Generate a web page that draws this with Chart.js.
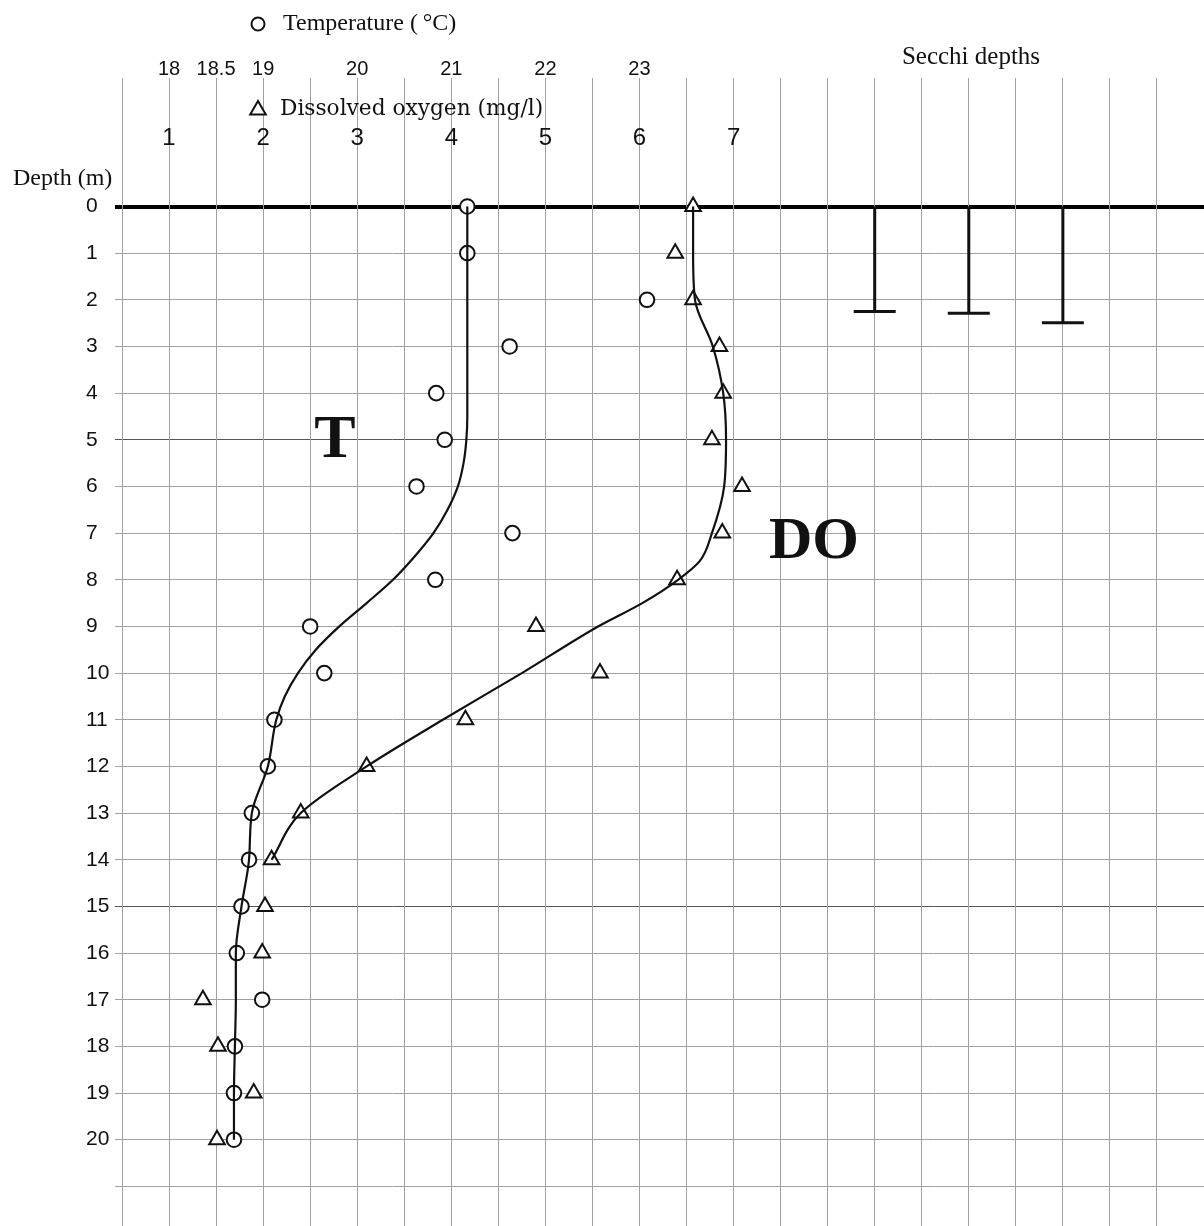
<!DOCTYPE html>
<html>
<head>
<meta charset="utf-8">
<script src="https://cdn.jsdelivr.net/npm/chart.js@4/dist/chart.umd.min.js"></script>
<style>
  html, body { margin: 0; padding: 0; background: #fff; }
  canvas { display: block; }
</style>
</head>
<body>
<canvas id="profile" width="1204" height="1226"></canvas>
<script>
// observed profile, one value per metre
const depths = [0, 1, 2, 3, 4, 5, 6, 7, 8, 9, 10, 11, 12, 13, 14, 15, 16, 17, 18, 19, 20];
const tempObs = [21.17, 21.17, 23.08, 21.62, 20.84, 20.93, 20.63, 21.65, 20.83, 19.5, 19.65, 19.12, 19.05, 18.88, 18.85, 18.77, 18.72, 18.99, 18.7, 18.69, 18.69];
const doObs = [6.57, 6.38, 6.57, 6.85, 6.89, 6.77, 7.09, 6.88, 6.4, 4.9, 5.58, 4.15, 3.1, 2.4, 2.09, 2.02, 1.99, 1.36, 1.52, 1.9, 1.51];

// hand-drawn fitted curves
const fitTDepth = [0, 4.5, 5, 5.5, 6, 6.5, 7, 7.5, 8, 8.5, 9, 9.5, 10, 10.5, 11, 12, 13, 14, 15, 16, 17, 18, 19, 20];
const fitT = [21.17, 21.17, 21.16, 21.13, 21.07, 20.96, 20.81, 20.61, 20.38, 20.1, 19.81, 19.56, 19.37, 19.23, 19.14, 19.05, 18.88, 18.85, 18.77, 18.71, 18.71, 18.7, 18.69, 18.69];
const fitDODepth = [0, 1, 2, 3, 4, 5, 6, 7, 7.6, 8, 8.5, 9, 10, 11, 12, 13, 14];
const fitDO = [6.57, 6.57, 6.59, 6.78, 6.89, 6.92, 6.9, 6.77, 6.64, 6.41, 6.03, 5.56, 4.75, 3.91, 3.1, 2.4, 2.09];

// secchi readings, placed on the DO grid
const secchiPos = [8.5, 9.5, 10.5];
const secchiDepth = [2.25, 2.29, 2.49];

// axis ticks
const depthTicks = [0, 1, 2, 3, 4, 5, 6, 7, 8, 9, 10, 11, 12, 13, 14, 15, 16, 17, 18, 19, 20, 21];
const tempTicks = [18, 18.5, 19, 20, 21, 22, 23];
const doTicks = [1, 2, 3, 4, 5, 6, 7];

const INK = "#111";
const GRID = "#a0a0a0";
const SANS = "'Liberation Sans', Arial, sans-serif";
const SERIF = "'Liberation Serif', 'Times New Roman', serif";

const pts = (xs, ys) => xs.map((x, i) => ({ x, y: ys[i] }));

// keep the layout fixed: no automatic edge padding from tick labels
const fixBox = (size) => (s) => {
  if (s.isHorizontal()) s.height = size;
  else s.width = size;
  s.paddingLeft = s.paddingRight = s.paddingTop = s.paddingBottom = 0;
};

const fitLine = (data, axis) => ({
  data,
  xAxisID: axis,
  borderColor: INK,
  borderWidth: 2.2,
  pointRadius: 0,
  cubicInterpolationMode: "monotone",
  clip: false,
});

const markers = (data, axis, style, radius) => ({
  data,
  xAxisID: axis,
  showLine: false,
  pointStyle: style,
  pointRadius: radius,
  pointBorderWidth: 2,
  pointBorderColor: INK,
  pointBackgroundColor: "#fff",
  clip: false,
});

const secchi = secchiPos.map((p, i) => ({
  data: [{ x: p, y: 0 }, { x: p, y: secchiDepth[i] }],
  xAxisID: "x",
  borderColor: INK,
  borderWidth: 3,
  tension: 0,
  pointStyle: "line",
  pointRadius: [0, 21],
  pointBorderWidth: 3,
  pointBorderColor: INK,
  clip: false,
}));

// free text and legend symbols of the figure
const notes = {
  id: "notes",
  afterDraw(chart) {
    const ctx = chart.ctx;
    const text = (s, x, y, font, align = "left") => {
      ctx.font = font;
      ctx.textAlign = align;
      ctx.fillText(s, x, y);
    };
    ctx.save();
    ctx.fillStyle = INK;
    ctx.textBaseline = "middle";
    text("Depth (m)", 13, 179, "24px " + SERIF);
    text("Temperature (\u2009°C)", 283, 24, "24px " + SERIF);
    text("Dissolved oxygen (mg/l)", 280, 109, "21.7px 'DejaVu Serif', serif");
    text("Secchi depths", 971, 57, "25px " + SERIF, "center");
    text("T", 335, 441, "bold 62px " + SERIF, "center");
    text("DO", 814, 542, "bold 60px " + SERIF, "center");

    ctx.strokeStyle = INK;
    ctx.fillStyle = "#fff";
    ctx.lineWidth = 2;
    Chart.helpers.drawPoint(ctx, { pointStyle: "circle", radius: 6.5, borderWidth: 2, rotation: 0 }, 258, 24);
    Chart.helpers.drawPoint(ctx, { pointStyle: "triangle", radius: 9, borderWidth: 2, rotation: 0 }, 258, 110);
    ctx.restore();
  },
};

new Chart(document.getElementById("profile"), {
  type: "line",
  data: {
    datasets: [
      fitLine(pts(fitT, fitTDepth), "tx"),
      fitLine(pts(fitDO, fitDODepth), "x"),
      markers(pts(tempObs, depths), "tx", "circle", 7.3),
      markers(pts(doObs, depths), "x", "triangle", 9),
      ...secchi,
    ],
  },
  options: {
    indexAxis: "y",
    responsive: false,
    devicePixelRatio: 1,
    animation: false,
    layout: { autoPadding: false, padding: { top: 57, left: 86, right: 0, bottom: 0 } },
    plugins: { legend: { display: false }, tooltip: { enabled: false } },
    scales: {
      y: {
        type: "linear",
        position: "left",
        reverse: true,
        min: 0,
        max: 21.85,
        afterBuildTicks: (s) => { s.ticks = depthTicks.map((value) => ({ value })); },
        afterFit: fixBox(36),
        border: { display: false },
        grid: {
          tickLength: 7,
          color: (c) => (c.tick.value === 0 ? "#000" : [5, 15].includes(c.tick.value) ? "#555" : GRID),
          lineWidth: (c) => (c.tick.value === 0 ? 4 : 1),
        },
        ticks: {
          autoSkip: false,
          crossAlign: "far",
          padding: 3,
          color: INK,
          font: { family: SANS, size: 21 },
          callback: (v) => (v <= 20 ? String(v) : ""),
        },
      },
      x: {
        type: "linear",
        position: "top",
        weight: 0,
        min: 0.5,
        max: 12,
        afterBuildTicks: (s) => {
          const t = [];
          for (let v = 0.5; v < 12; v += 0.5) t.push({ value: v });
          s.ticks = t;
        },
        afterFit: fixBox(82.9),
        border: { display: false },
        grid: { color: GRID, lineWidth: 1, tickLength: 128.5 },
        ticks: {
          autoSkip: false,
          maxRotation: 0,
          padding: -74.4,
          color: INK,
          font: { family: SANS, size: 24 },
          callback: (v) => (doTicks.includes(v) ? String(v) : ""),
        },
      },
      tx: {
        type: "linear",
        position: "top",
        weight: 1,
        min: 17.5,
        max: 29,
        afterBuildTicks: (s) => { s.ticks = tempTicks.map((value) => ({ value })); },
        afterFit: fixBox(66.6),
        border: { display: false },
        grid: { display: false, drawTicks: false },
        ticks: {
          autoSkip: false,
          maxRotation: 0,
          padding: 42.6,
          color: INK,
          font: { family: SANS, size: 20 },
          callback: (v) => String(v),
        },
      },
    },
  },
  plugins: [notes],
});
</script>
</body>
</html>
